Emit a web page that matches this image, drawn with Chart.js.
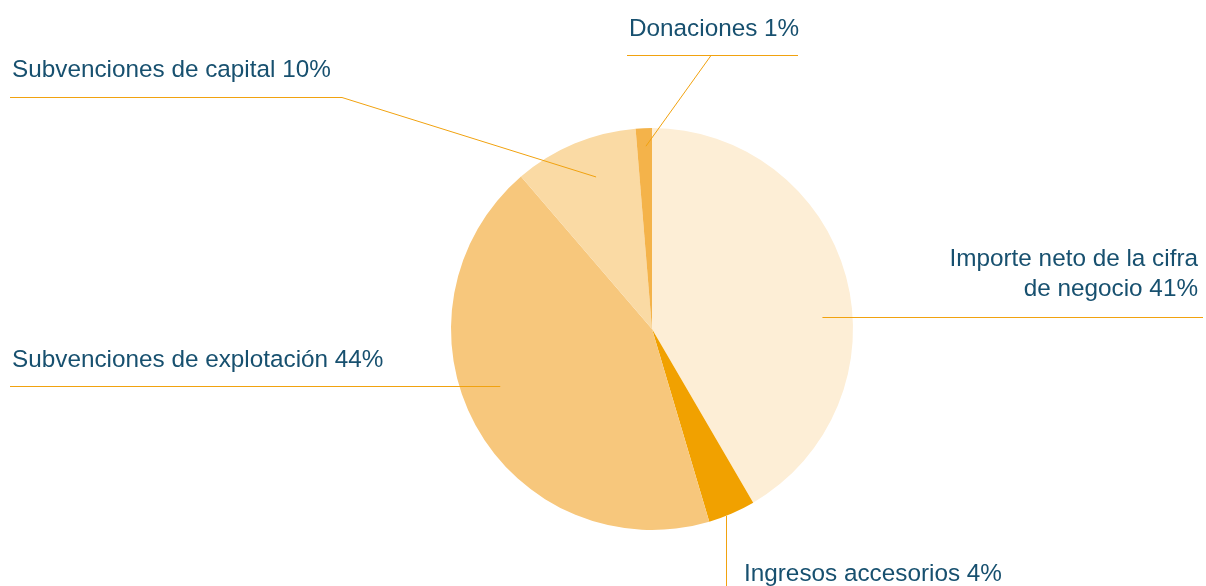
<!DOCTYPE html>
<html>
<head>
<meta charset="utf-8">
<script src="https://cdn.jsdelivr.net/npm/chart.js@4"></script>
<style>
  html, body { margin: 0; padding: 0; background: #fff; }
  #wrap { width: 1206px; height: 586px; position: relative; }
</style>
</head>
<body>
<div id="wrap"><canvas id="grafica"></canvas></div>
<script>
// datos del gráfico (sentido horario desde arriba)
const categorias = ['Importe neto de la cifra de negocio', 'Ingresos accesorios', 'Subvenciones de explotación', 'Subvenciones de capital', 'Donaciones'];
const porcentajes = [41.6, 3.8, 43.3, 10.0, 1.3];
const colores = ['#FDEED6', '#F1A100', '#F7C77C', '#FADAA4', '#F4B34A'];

// etiquetas: texto, posición del texto y línea guía (ángulo/fracción del radio para el punto en la porción)
// ajuste: 'x' o 'y' fija esa coordenada del punto inicial para que el tramo sea recto
const etiquetas = [
    { lineas: ['Importe neto de la cifra', 'de negocio 41%'], x: 1198, y: [266, 296], align: 'right',
      angulo: 86, frac: 0.85, ajuste: 'y', codo: [[1203, 317.5]] },
    { lineas: ['Ingresos accesorios 4%'], x: 744, y: [581], align: 'left',
      angulo: 158.4, frac: 1.0, ajuste: 'x', codo: [[726.5, 586]] },
    { lineas: ['Subvenciones de explotación 44%'], x: 12, y: [367], align: 'left',
      angulo: 249.5, frac: 0.806, ajuste: 'y', codo: [[10, 386.5]] },
    { lineas: ['Subvenciones de capital 10%'], x: 12, y: [77], align: 'left',
      angulo: 339.8, frac: 0.806, codo: [[342, 97.5], [10, 97.5]] },
    { lineas: ['Donaciones 1%'], x: 629, y: [36], align: 'left',
      angulo: 358.1, frac: 0.91, codo: [[711, 55.5], [627, 55.5], [798, 55.5]] }
];

const pluginEtiquetas = {
    id: 'etiquetas',
    afterDraw(chart) {
        const ctx = chart.ctx;
        const arcos = chart.getDatasetMeta(0).data;
        const cx = arcos[0].x, cy = arcos[0].y, r = arcos[0].outerRadius;
        ctx.save();
        etiquetas.forEach(et => {
            const a = (et.angulo - 90) * Math.PI / 180;
            let px = cx + Math.cos(a) * r * et.frac;
            let py = cy + Math.sin(a) * r * et.frac;
            if (et.ajuste === 'y') py = et.codo[0][1];
            if (et.ajuste === 'x') px = et.codo[0][0];
            ctx.strokeStyle = '#F1A20F';
            ctx.lineWidth = 1;
            ctx.beginPath();
            ctx.moveTo(px, py);
            et.codo.forEach(p => ctx.lineTo(p[0], p[1]));
            ctx.stroke();

            ctx.fillStyle = '#17506F';
            ctx.font = '24.3px "Liberation Sans", Arial, sans-serif';
            ctx.textAlign = et.align;
            ctx.textBaseline = 'alphabetic';
            et.lineas.forEach((t, i) => ctx.fillText(t, et.x, et.y[i]));
        });
        ctx.restore();
    }
};

new Chart(document.getElementById('grafica'), {
    type: 'pie',
    data: {
        labels: categorias,
        datasets: [{
            data: porcentajes,
            backgroundColor: colores,
            borderWidth: 0
        }]
    },
    options: {
        responsive: true,
        maintainAspectRatio: false,
        animation: false,
        layout: { padding: { left: 451, right: 353, top: 128, bottom: 56 } },
        plugins: {
            legend: { display: false },
            tooltip: { enabled: false }
        }
    },
    plugins: [pluginEtiquetas]
});
</script>
</body>
</html>
